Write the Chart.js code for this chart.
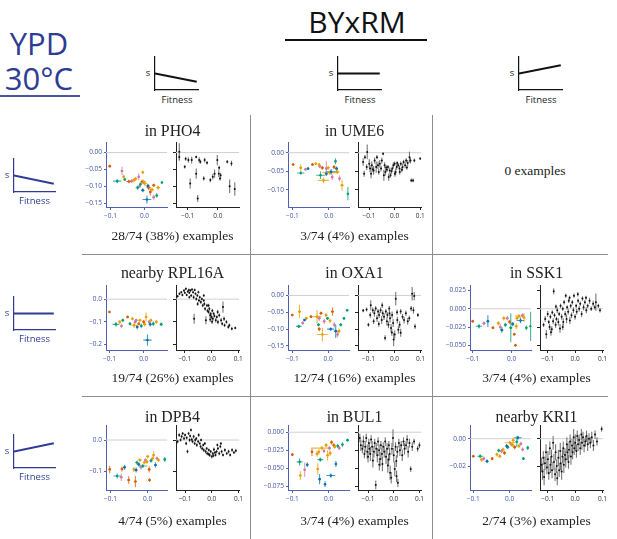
<!DOCTYPE html>
<html>
<head>
<meta charset="utf-8">
<script src="https://cdn.jsdelivr.net/npm/chart.js@4.4.0/dist/chart.umd.min.js"></script>
<style>
body{margin:0;background:#fff;width:617px;height:539px;position:relative;overflow:hidden;font-family:"Open Sans",sans-serif}
.t{position:absolute;white-space:nowrap;transform:translate(-50%,-50%);line-height:1}
.serif{font-family:"Liberation Serif",serif;color:#222}
canvas{position:absolute}
.ln{position:absolute;background:#8c8c8c}
</style>
</head>
<body>
<script>
// colours used for the strains in the left plots: blue, orange, green, red, pink
const palette = ['#0072b2', '#e69f00', '#009e73', '#d55e00', '#cc79a7'];

// schematic slopes (s against fitness)
const schemX = [0, 1];
const schemDown = [0.5, 0.25];
const schemFlat = [0.5, 0.5];
const schemUp = [0.5, 0.75];

const titles = ['in PHO4', 'in UME6', '', 'nearby RPL16A', 'in OXA1', 'in SSK1', 'in DPB4', 'in BUL1', 'nearby KRI1'];
const footers = ['28/74 (38%) examples', '3/74 (4%) examples', '0 examples', '19/74 (26%) examples', '12/74 (16%) examples',
  '3/74 (4%) examples', '4/74 (5%) examples', '3/74 (4%) examples', '2/74 (3%) examples'];

// left plots: [fitness, s, fitness err, s err, colour]
const pho4Left = [
  [-0.102,-0.040,0.003,0.004,3],[-0.066,-0.054,0.004,0.012,4],[-0.080,-0.084,0.012,0.006,2],[-0.061,-0.071,0.004,0.006,1],
  [-0.058,-0.079,0.003,0.004,2],[-0.046,-0.085,0.008,0.005,3],[-0.031,-0.081,0.006,0.006,1],[-0.026,-0.077,0.005,0.005,1],
  [-0.017,-0.071,0.004,0.010,4],[-0.005,-0.058,0.003,0.005,1],[-0.007,-0.086,0.005,0.006,3],[-0.020,-0.103,0.006,0.006,2],
  [-0.003,-0.086,0.008,0.007,1],[0.001,-0.091,0.006,0.008,1],[-0.005,-0.111,0.005,0.006,0],[-0.012,-0.093,0.004,0.005,2],
  [-0.014,-0.098,0.004,0.006,4],[0.012,-0.103,0.006,0.008,3],[0.022,-0.109,0.005,0.006,1],[0.017,-0.116,0.004,0.010,3],
  [0.036,-0.126,0.004,0.007,2],[0.007,-0.138,0.013,0.012,0],[0.027,-0.131,0.004,0.008,4],[0.051,-0.088,0.002,0.003,2],
  [0.027,-0.096,0.005,0.005,3],[0.040,-0.103,0.006,0.006,1],[-0.038,-0.084,0.005,0.005,4],[0.010,-0.098,0.005,0.006,0]
];
const ume6Left = [
  [-0.098,-0.032,0.003,0.003,3],[-0.077,-0.041,0.004,0.010,1],[-0.077,-0.055,0.010,0.004,2],[-0.064,-0.045,0.004,0.004,4],
  [-0.057,-0.043,0.003,0.003,0],[-0.045,-0.032,0.004,0.004,3],[-0.036,-0.030,0.004,0.004,1],[-0.027,-0.032,0.003,0.003,1],
  [-0.025,-0.037,0.004,0.005,4],[-0.018,-0.041,0.004,0.005,3],[-0.023,-0.061,0.012,0.010,2],[-0.015,-0.075,0.015,0.008,1],
  [-0.007,-0.043,0.004,0.020,4],[-0.002,-0.041,0.004,0.005,1],[-0.007,-0.057,0.004,0.006,0],[0.006,-0.052,0.015,0.008,0],
  [0.009,-0.066,0.004,0.008,4],[0.018,-0.023,0.003,0.008,2],[0.023,-0.052,0.006,0.006,1],[0.029,-0.070,0.004,0.008,4],
  [0.036,-0.088,0.004,0.015,1],[0.052,-0.111,0.003,0.018,2],[0.014,-0.039,0.004,0.005,3],[0.002,-0.054,0.020,0.006,1],
  [0.021,-0.043,0.004,0.006,0]
];
const rpl16aLeft = [
  [-0.100,-0.057,0.003,0.005,3],[-0.081,-0.112,0.010,0.010,2],[-0.070,-0.101,0.004,0.008,1],[-0.065,-0.119,0.004,0.010,4],
  [-0.061,-0.094,0.004,0.008,2],[-0.047,-0.079,0.004,0.006,3],[-0.033,-0.087,0.004,0.008,1],[-0.028,-0.116,0.010,0.012,1],
  [-0.025,-0.101,0.004,0.008,4],[-0.019,-0.124,0.004,0.010,0],[-0.014,-0.109,0.004,0.008,3],[-0.011,-0.094,0.004,0.008,1],
  [-0.007,-0.119,0.004,0.010,2],[0.000,-0.101,0.004,0.008,3],[0.003,-0.112,0.005,0.010,1],[0.007,-0.079,0.004,0.020,1],
  [0.011,-0.182,0.012,0.025,0],[0.016,-0.101,0.004,0.010,4],[0.021,-0.094,0.004,0.008,1],[0.028,-0.109,0.004,0.010,2],
  [0.037,-0.101,0.004,0.008,1],[0.051,-0.112,0.004,0.008,2],[-0.022,-0.094,0.004,0.008,4],[-0.040,-0.109,0.004,0.008,2],
  [0.019,-0.112,0.004,0.010,0]
];
const oxa1Left = [
  [-0.100,-0.058,0.003,0.004,3],[-0.080,-0.048,0.004,0.020,1],[-0.082,-0.092,0.008,0.005,2],[-0.071,-0.082,0.004,0.006,4],
  [-0.066,-0.073,0.004,0.004,0],[-0.061,-0.068,0.004,0.005,1],[-0.048,-0.063,0.004,0.004,3],[-0.031,-0.063,0.012,0.020,1],
  [-0.027,-0.087,0.004,0.005,2],[-0.025,-0.068,0.004,0.008,4],[-0.020,-0.053,0.004,0.005,3],[-0.016,-0.116,0.015,0.020,1],
  [-0.011,-0.077,0.004,0.008,4],[-0.006,-0.058,0.004,0.006,1],[-0.002,-0.068,0.004,0.005,2],[0.007,-0.100,0.010,0.005,0],
  [0.012,-0.048,0.004,0.012,3],[0.017,-0.087,0.004,0.008,4],[0.021,-0.106,0.005,0.020,0],[0.026,-0.116,0.004,0.008,4],
  [0.030,-0.106,0.004,0.008,1],[0.035,-0.087,0.004,0.005,2],[0.044,-0.068,0.003,0.004,2],[0.053,-0.044,0.003,0.004,2],
  [0.005,-0.075,0.004,0.006,1],[-0.025,-0.100,0.004,0.006,3]
];
const ssk1Left = [
  [-0.100,-0.017,0.003,0.002,3],[-0.084,-0.024,0.008,0.003,2],[-0.071,-0.020,0.004,0.003,4],[-0.061,-0.017,0.004,0.008,0],
  [-0.048,-0.026,0.004,0.002,3],[-0.034,-0.020,0.004,0.003,1],[-0.029,-0.025,0.004,0.004,4],[-0.025,-0.029,0.004,0.004,0],
  [-0.020,-0.013,0.004,0.003,1],[-0.016,-0.022,0.004,0.003,2],[-0.011,-0.013,0.004,0.003,4],[-0.005,-0.018,0.004,0.003,3],
  [-0.002,-0.026,0.004,0.020,2],[0.007,-0.035,0.003,0.002,3],[0.010,-0.050,0.003,0.002,3],[0.014,-0.013,0.004,0.003,1],
  [0.019,-0.010,0.010,0.003,1],[0.023,-0.016,0.010,0.004,0],[0.028,-0.009,0.004,0.003,4],[0.032,-0.012,0.004,0.006,1],
  [0.038,-0.026,0.003,0.003,2],[0.049,-0.024,0.003,0.020,2],[0.003,-0.021,0.004,0.003,0],[0.012,-0.024,0.004,0.004,1]
];
const dpb4Left = [
  [-0.102,-0.094,0.003,0.012,3],[-0.082,-0.115,0.010,0.008,2],[-0.071,-0.119,0.004,0.012,4],[-0.069,-0.093,0.004,0.008,3],
  [-0.062,-0.087,0.004,0.008,0],[-0.051,-0.128,0.004,0.012,3],[-0.037,-0.094,0.004,0.008,1],[-0.033,-0.133,0.004,0.018,3],
  [-0.031,-0.096,0.004,0.008,0],[-0.029,-0.072,0.004,0.006,2],[-0.021,-0.064,0.006,0.006,1],[-0.018,-0.087,0.004,0.008,4],
  [-0.013,-0.083,0.012,0.006,2],[-0.009,-0.072,0.004,0.006,1],[-0.006,-0.064,0.004,0.006,4],[0.000,-0.053,0.004,0.006,1],
  [0.004,-0.094,0.004,0.010,3],[0.005,-0.128,0.004,0.006,3],[0.009,-0.066,0.004,0.006,2],[0.013,-0.059,0.004,0.006,1],
  [0.016,-0.048,0.004,0.012,1],[0.021,-0.080,0.004,0.008,0],[0.025,-0.059,0.004,0.006,4],[0.029,-0.064,0.004,0.006,1],
  [0.046,-0.062,0.003,0.008,2],[-0.024,-0.078,0.004,0.006,0],[-0.002,-0.070,0.004,0.006,1]
];
const bul1Left = [
  [-0.100,-0.031,0.003,0.002,3],[-0.080,-0.041,0.008,0.005,2],[-0.078,-0.060,0.003,0.006,1],[-0.066,-0.052,0.003,0.010,4],
  [-0.059,-0.045,0.003,0.003,0],[-0.046,-0.027,0.003,0.006,3],[-0.032,-0.030,0.004,0.004,1],[-0.030,-0.051,0.003,0.008,1],
  [-0.027,-0.027,0.004,0.004,1],[-0.025,-0.065,0.003,0.007,0],[-0.023,-0.038,0.008,0.003,2],[-0.019,-0.022,0.025,0.003,1],
  [-0.010,-0.072,0.003,0.004,0],[-0.007,-0.018,0.004,0.003,1],[-0.003,-0.032,0.003,0.007,1],[0.002,-0.022,0.004,0.003,4],
  [0.006,-0.060,0.012,0.003,0],[0.008,-0.014,0.003,0.003,3],[0.014,-0.018,0.003,0.003,3],[0.017,-0.020,0.004,0.003,1],
  [0.020,-0.044,0.003,0.004,0],[0.025,-0.019,0.003,0.003,2],[0.029,-0.022,0.003,0.003,4],[0.038,-0.017,0.003,0.003,2],
  [0.052,-0.011,0.003,0.002,2],[-0.013,-0.026,0.003,0.003,4],[0.004,-0.029,0.004,0.004,1]
];
const kri1Left = [
  [-0.100,-0.0128,0.003,0.001,3],[-0.081,-0.0128,0.008,0.0015,2],[-0.077,-0.0153,0.004,0.0015,1],[-0.071,-0.0146,0.004,0.0015,4],
  [-0.062,-0.0165,0.004,0.0015,0],[-0.048,-0.0146,0.003,0.0012,3],[-0.035,-0.0116,0.004,0.0015,1],[-0.030,-0.0086,0.004,0.0015,2],
  [-0.027,-0.0128,0.004,0.0015,1],[-0.022,-0.0091,0.004,0.0015,4],[-0.018,-0.0079,0.004,0.0015,1],[-0.014,-0.0104,0.004,0.0015,3],
  [-0.008,-0.0054,0.004,0.0015,0],[-0.005,-0.0062,0.004,0.0015,2],[0.001,-0.0030,0.015,0.0015,1],[0.005,-0.0042,0.004,0.0015,4],
  [0.010,-0.0012,0.004,0.002,1],[0.014,-0.0062,0.004,0.0015,3],[0.020,-0.0022,0.004,0.004,2],[0.023,0.0007,0.010,0.0015,0],
  [0.026,-0.0054,0.004,0.0015,1],[0.031,-0.0037,0.004,0.0015,4],[0.036,-0.0079,0.004,0.0015,4],[0.038,-0.0146,0.003,0.001,2],
  [0.050,-0.0067,0.003,0.0015,2],[0.008,-0.0045,0.004,0.0015,1]
];

// right plots: [fitness, s, s err]
const pho4Right = [
  [-0.128,0.002,0.025],[-0.128,-0.013,0.010],[-0.107,-0.018,0.006],[-0.110,-0.042,0.005],[-0.098,-0.022,0.008],[-0.092,-0.091,0.015],
  [-0.087,-0.022,0.010],[-0.072,-0.013,0.004],[-0.072,-0.062,0.015],[-0.062,-0.022,0.008],[-0.058,-0.027,0.006],[-0.047,-0.076,0.006],
  [-0.044,-0.022,0.007],[-0.067,-0.135,0.010],[-0.025,-0.081,0.006],[-0.017,-0.071,0.008],[-0.011,-0.062,0.012],[-0.002,-0.022,0.015],
  [0.003,-0.062,0.010],[0.007,-0.076,0.006],[0.009,-0.067,0.008],[0.031,-0.027,0.005],[0.045,-0.032,0.008],[0.039,-0.099,0.020],
  [0.056,-0.107,0.020],[0.004,-0.045,0.006],[-0.036,-0.030,0.005]
];
const ume6Right = [
  [-0.123,-0.025,0.010],[-0.119,-0.057,0.008],[-0.109,-0.039,0.008],[-0.107,0.002,0.020],[-0.099,-0.030,0.012],[-0.096,-0.043,0.010],
  [-0.089,-0.034,0.010],[-0.082,-0.048,0.012],[-0.078,-0.021,0.008],[-0.072,-0.039,0.015],[-0.065,-0.034,0.010],[-0.062,-0.052,0.008],
  [-0.058,-0.030,0.010],[-0.053,-0.043,0.008],[-0.045,-0.003,0.004],[-0.042,-0.061,0.015],[-0.039,-0.034,0.008],[-0.036,-0.052,0.010],
  [-0.030,-0.046,0.006],[-0.026,-0.039,0.006],[-0.019,-0.048,0.008],[-0.016,-0.061,0.006],[-0.009,-0.043,0.006],[-0.005,-0.034,0.008],
  [0.000,-0.030,0.006],[0.004,-0.052,0.010],[0.008,-0.039,0.008],[0.014,-0.034,0.006],[0.019,-0.043,0.008],[0.024,-0.030,0.006],
  [0.031,-0.039,0.010],[0.035,-0.025,0.006],[0.041,-0.034,0.008],[0.045,-0.021,0.006],[0.051,-0.028,0.008],[0.058,-0.012,0.015],
  [0.062,-0.021,0.008],[0.065,-0.075,0.005],[0.072,-0.075,0.005],[0.077,-0.021,0.005],[0.100,-0.016,0.004],[-0.069,-0.012,0.006],
  [-0.050,-0.021,0.008],[-0.023,-0.066,0.010],[0.001,-0.057,0.008],[0.020,-0.052,0.008],[-0.116,-0.012,0.006],[-0.092,-0.057,0.012],
  [-0.085,-0.045,0.008],[-0.012,-0.050,0.007],[0.028,-0.046,0.007],[0.010,-0.028,0.005],[-0.033,-0.040,0.006],[0.048,-0.040,0.006]
];
const rpl16aRight = [
  [-0.127,0.013,0.006],[-0.120,0.024,0.006],[-0.113,0.031,0.005],[-0.109,0.019,0.006],[-0.103,0.038,0.006],[-0.100,0.028,0.005],
  [-0.096,0.046,0.006],[-0.093,0.019,0.006],[-0.089,0.034,0.005],[-0.085,0.041,0.006],[-0.083,0.028,0.005],[-0.079,0.038,0.006],
  [-0.076,0.016,0.006],[-0.073,0.043,0.005],[-0.069,0.031,0.006],[-0.067,0.009,0.008],[-0.065,-0.087,0.022],[-0.063,0.041,0.006],
  [-0.060,0.024,0.006],[-0.057,0.001,0.008],[-0.053,0.016,0.006],[-0.049,0.031,0.006],[-0.047,-0.006,0.008],[-0.044,0.009,0.006],
  [-0.040,-0.013,0.008],[-0.036,0.001,0.006],[-0.033,-0.028,0.008],[-0.029,-0.006,0.006],[-0.027,-0.021,0.008],[-0.024,-0.043,0.008],
  [-0.021,-0.094,0.018],[-0.017,-0.028,0.008],[-0.015,-0.051,0.008],[-0.011,-0.057,0.008],[-0.008,-0.043,0.008],[-0.005,-0.072,0.010],
  [-0.003,-0.065,0.008],[0.000,-0.079,0.010],[0.003,-0.051,0.008],[0.005,-0.087,0.010],[0.008,-0.065,0.008],[0.011,-0.075,0.008],
  [0.016,-0.094,0.010],[0.020,-0.079,0.008],[0.024,-0.101,0.010],[0.029,-0.072,0.008],[0.036,-0.094,0.010],[0.040,-0.109,0.008],
  [0.043,-0.035,0.025],[0.047,-0.087,0.010],[0.049,-0.116,0.008],[0.056,-0.101,0.008],[0.063,-0.124,0.008],[0.067,-0.116,0.008],
  [0.076,-0.131,0.008],[0.089,-0.128,0.006],[-0.011,-0.028,0.008],[0.023,-0.057,0.010],[-0.029,0.016,0.006],[-0.083,0.009,0.006],
  [-0.052,-0.021,0.008],[-0.005,-0.090,0.012],[0.002,-0.100,0.010]
];
const oxa1Right = [
  [-0.120,-0.045,0.005],[-0.107,-0.042,0.006],[-0.100,-0.087,0.006],[-0.093,-0.058,0.008],[-0.091,-0.029,0.015],[-0.083,-0.044,0.008],
  [-0.080,-0.077,0.008],[-0.077,-0.053,0.010],[-0.072,-0.039,0.008],[-0.067,-0.068,0.010],[-0.063,-0.048,0.008],[-0.059,-0.058,0.010],
  [-0.053,-0.044,0.008],[-0.049,-0.073,0.012],[-0.045,-0.053,0.008],[-0.040,-0.063,0.010],[-0.036,-0.126,0.008],[-0.033,-0.048,0.008],
  [-0.029,-0.077,0.012],[-0.027,-0.058,0.008],[-0.023,-0.087,0.010],[-0.019,-0.053,0.008],[-0.017,-0.068,0.012],[-0.013,-0.097,0.012],
  [-0.009,-0.058,0.010],[-0.005,-0.082,0.012],[-0.003,-0.131,0.020],[0.001,-0.116,0.012],[0.005,-0.010,0.020],[0.011,-0.073,0.010],
  [0.015,-0.102,0.012],[0.020,-0.087,0.010],[0.024,-0.111,0.012],[0.031,-0.063,0.008],[0.037,-0.073,0.010],[0.044,-0.053,0.008],
  [0.051,-0.077,0.010],[0.057,-0.068,0.008],[0.064,-0.039,0.008],[0.068,0.005,0.020],[0.073,-0.044,0.010],[0.076,-0.002,0.012],
  [0.079,-0.092,0.008],[0.090,-0.058,0.006],[-0.047,-0.029,0.008],[-0.020,-0.039,0.008],[0.024,-0.048,0.008],[-0.060,-0.085,0.008],
  [-0.010,-0.110,0.010],[0.010,-0.050,0.008]
];
const ssk1Right = [
  [-0.115,-0.022,0.003],[-0.109,-0.014,0.004],[-0.105,-0.035,0.006],[-0.100,-0.007,0.004],[-0.096,-0.018,0.003],[-0.093,-0.025,0.004],
  [-0.090,-0.011,0.003],[-0.088,-0.032,0.005],[-0.083,-0.005,0.003],[-0.080,-0.017,0.004],[-0.078,0.024,0.004],[-0.075,-0.009,0.003],
  [-0.071,-0.022,0.004],[-0.068,-0.014,0.003],[-0.065,-0.002,0.004],[-0.061,-0.018,0.005],[-0.058,-0.007,0.003],[-0.055,-0.027,0.006],
  [-0.053,0.004,0.003],[-0.049,-0.011,0.004],[-0.045,0.000,0.003],[-0.043,-0.018,0.005],[-0.040,0.009,0.003],[-0.036,-0.007,0.004],
  [-0.034,0.018,0.003],[-0.031,-0.014,0.006],[-0.029,0.002,0.003],[-0.025,-0.004,0.004],[-0.023,0.011,0.003],[-0.019,-0.016,0.005],
  [-0.016,0.004,0.003],[-0.013,-0.009,0.004],[-0.010,0.009,0.003],[-0.006,-0.002,0.004],[-0.004,0.018,0.003],[0.000,-0.011,0.004],
  [0.004,0.004,0.003],[0.006,-0.004,0.004],[0.011,0.011,0.003],[0.015,0.000,0.004],[0.019,0.007,0.003],[0.024,-0.007,0.004],
  [0.027,0.014,0.003],[0.031,0.002,0.004],[0.036,0.009,0.003],[0.041,-0.002,0.004],[0.046,0.004,0.003],[0.053,0.011,0.004],
  [0.059,0.000,0.003],[0.066,0.007,0.004],[0.072,0.002,0.003],[0.076,0.009,0.012],[0.085,0.004,0.003],[0.091,-0.002,0.003],
  [-0.070,0.003,0.003],[-0.020,0.015,0.003],[0.010,0.020,0.003],[-0.085,-0.028,0.004],[-0.045,-0.025,0.004],[0.040,0.015,0.003]
];
const dpb4Right = [
  [-0.128,-0.005,0.006],[-0.122,0.016,0.006],[-0.117,0.000,0.005],[-0.113,0.011,0.006],[-0.109,0.021,0.005],[-0.104,0.005,0.006],
  [-0.100,0.016,0.005],[-0.096,-0.011,0.006],[-0.094,0.007,0.005],[-0.091,-0.037,0.006],[-0.087,0.021,0.005],[-0.083,0.000,0.006],
  [-0.081,0.013,0.005],[-0.078,0.032,0.005],[-0.075,0.002,0.006],[-0.072,-0.005,0.005],[-0.068,0.011,0.006],[-0.064,-0.011,0.005],
  [-0.062,0.000,0.006],[-0.058,0.005,0.005],[-0.056,-0.016,0.006],[-0.051,-0.005,0.005],[-0.049,0.016,0.006],[-0.045,-0.011,0.005],
  [-0.042,-0.021,0.006],[-0.040,0.000,0.005],[-0.036,-0.027,0.006],[-0.032,-0.016,0.005],[-0.030,-0.032,0.006],[-0.026,-0.011,0.005],
  [-0.023,-0.037,0.006],[-0.019,-0.027,0.005],[-0.017,-0.043,0.006],[-0.011,-0.032,0.005],[-0.008,-0.048,0.006],[-0.004,-0.037,0.005],
  [0.000,-0.053,0.006],[0.004,-0.043,0.005],[0.008,-0.030,0.006],[0.014,-0.048,0.005],[0.018,-0.037,0.006],[0.023,-0.027,0.005],
  [0.028,-0.043,0.006],[0.032,-0.021,0.005],[0.037,-0.037,0.006],[0.042,-0.048,0.005],[0.049,-0.032,0.006],[0.056,-0.043,0.005],
  [0.063,-0.037,0.006],[0.069,-0.048,0.005],[0.076,-0.032,0.006],[0.083,-0.040,0.005],[0.090,-0.034,0.006],[0.034,-0.011,0.005],
  [0.021,-0.016,0.005],[-0.012,-0.045,0.005],[0.006,-0.050,0.005],[0.012,-0.040,0.005]
];
const bul1Right = [
  [-0.132,-0.008,0.006],[-0.128,-0.018,0.008],[-0.122,-0.023,0.006],[-0.118,-0.013,0.008],[-0.114,-0.030,0.006],[-0.111,-0.020,0.008],
  [-0.107,-0.008,0.006],[-0.103,-0.027,0.010],[-0.100,-0.034,0.008],[-0.097,-0.015,0.006],[-0.095,-0.023,0.008],[-0.091,-0.030,0.010],
  [-0.088,-0.010,0.006],[-0.084,-0.020,0.008],[-0.081,-0.039,0.010],[-0.077,-0.027,0.008],[-0.074,-0.015,0.006],[-0.070,-0.073,0.006],
  [-0.068,-0.023,0.008],[-0.064,-0.032,0.010],[-0.061,-0.013,0.006],[-0.057,-0.025,0.008],[-0.053,-0.037,0.010],[-0.050,-0.018,0.006],
  [-0.046,-0.030,0.008],[-0.044,-0.044,0.010],[-0.041,-0.020,0.006],[-0.037,-0.027,0.008],[-0.033,-0.013,0.006],[-0.030,-0.034,0.010],
  [-0.026,-0.023,0.008],[-0.023,-0.046,0.010],[-0.019,-0.018,0.006],[-0.016,-0.030,0.008],[-0.014,-0.056,0.010],[-0.010,-0.063,0.008],
  [-0.007,-0.023,0.008],[-0.003,-0.008,0.012],[0.000,-0.032,0.010],[0.004,-0.051,0.010],[0.007,-0.020,0.006],[0.011,-0.061,0.008],
  [0.014,-0.027,0.008],[0.016,-0.070,0.006],[0.020,-0.015,0.006],[0.024,-0.025,0.008],[0.029,-0.018,0.006],[0.033,-0.032,0.008],
  [0.038,-0.013,0.006],[0.042,-0.023,0.008],[0.048,-0.018,0.006],[0.052,-0.010,0.006],[0.056,-0.027,0.008],[0.061,-0.015,0.006],
  [0.066,-0.051,0.004],[0.072,-0.020,0.006],[0.079,-0.013,0.004],[0.093,-0.023,0.004],[0.100,-0.018,0.004],[-0.056,-0.045,0.008],
  [-0.020,-0.038,0.008],[0.010,-0.040,0.008]
];
const kri1Right = [
  [-0.123,-0.019,0.005],[-0.119,-0.024,0.006],[-0.116,-0.014,0.005],[-0.113,-0.028,0.006],[-0.110,-0.018,0.005],[-0.106,-0.010,0.006],
  [-0.103,-0.021,0.005],[-0.099,-0.015,0.006],[-0.096,-0.025,0.005],[-0.092,-0.007,0.005],[-0.090,-0.019,0.006],[-0.086,-0.013,0.005],
  [-0.084,-0.023,0.006],[-0.080,-0.003,0.005],[-0.077,-0.017,0.006],[-0.073,-0.026,0.005],[-0.071,-0.010,0.006],[-0.067,-0.020,0.005],
  [-0.065,-0.029,0.005],[-0.061,-0.014,0.006],[-0.058,-0.023,0.005],[-0.054,-0.009,0.006],[-0.053,-0.018,0.005],[-0.049,-0.024,0.006],
  [-0.046,-0.013,0.005],[-0.043,-0.007,0.005],[-0.041,-0.019,0.006],[-0.037,-0.012,0.005],[-0.034,-0.015,0.006],[-0.030,-0.004,0.005],
  [-0.028,-0.010,0.006],[-0.024,-0.017,0.005],[-0.022,-0.008,0.006],[-0.018,-0.002,0.005],[-0.015,-0.013,0.006],[-0.011,-0.005,0.005],
  [-0.009,-0.010,0.005],[-0.005,0.001,0.006],[-0.003,-0.007,0.005],[0.001,-0.003,0.006],[0.005,-0.009,0.005],[0.008,0.002,0.004],
  [0.011,-0.004,0.005],[0.015,-0.001,0.004],[0.019,-0.007,0.005],[0.023,0.003,0.004],[0.025,-0.003,0.005],[0.029,0.001,0.004],
  [0.033,-0.005,0.005],[0.038,-0.002,0.004],[0.042,0.002,0.004],[0.046,-0.004,0.005],[0.051,0.000,0.004],[0.056,-0.003,0.004],
  [0.061,0.001,0.004],[0.067,-0.005,0.004],[0.073,0.003,0.003],[0.080,-0.002,0.003],[0.097,0.007,0.002]
];

// layout
const cellX = [68, 250, 432];
const rowTop = [142, 284.5, 425];
const titleY = [130.7, 273.3, 417.3];
const footY = [236, 378.3, 520.7];
const PH = 65, LW = 61, RW = 63, PAD_T = 6, PAD_R = 10, XH = 18;

function addText(txt, x, y, size, cls, color) {
  const d = document.createElement('div');
  d.className = 't ' + (cls || '');
  d.textContent = txt;
  d.style.left = x + 'px';
  d.style.top = y + 'px';
  d.style.fontSize = size + 'px';
  if (color) d.style.color = color;
  document.body.appendChild(d);
}
function addLine(x, y, w, h, color) {
  const d = document.createElement('div');
  d.className = 'ln';
  d.style.left = x + 'px'; d.style.top = y + 'px';
  d.style.width = w + 'px'; d.style.height = h + 'px';
  if (color) d.style.background = color;
  document.body.appendChild(d);
}
function makeCanvas(left, top, w, h) {
  const c = document.createElement('canvas');
  c.width = w; c.height = h;
  c.style.left = left + 'px'; c.style.top = top + 'px';
  document.body.appendChild(c);
  return c;
}
function fmt(v, d) {
  return (v < -1e-9 ? '\u2212' : '') + Math.abs(v).toFixed(d);
}

// zero line + error bars, drawn with the chart's scales
const errorBars = {
  id: 'errorBars',
  beforeDatasetsDraw(chart) {
    const { ctx, chartArea: a, scales: { x, y } } = chart;
    ctx.save();
    ctx.beginPath(); ctx.rect(a.left, a.top - 2, a.right - a.left + 2, a.bottom - a.top + 2); ctx.clip();
    const y0 = y.getPixelForValue(0);
    ctx.strokeStyle = '#d0d0d0'; ctx.lineWidth = 1;
    ctx.beginPath(); ctx.moveTo(a.left, y0); ctx.lineTo(a.right, y0); ctx.stroke();
    chart.data.datasets.forEach(ds => {
      ctx.strokeStyle = ds.barColor; ctx.lineWidth = ds.barWidth;
      ds.data.forEach(p => {
        const px = x.getPixelForValue(p.x), py = y.getPixelForValue(p.y);
        ctx.beginPath();
        if (p.ey) { ctx.moveTo(px, y.getPixelForValue(p.y - p.ey)); ctx.lineTo(px, y.getPixelForValue(p.y + p.ey)); }
        if (p.ex) { ctx.moveTo(x.getPixelForValue(p.x - p.ex), py); ctx.lineTo(x.getPixelForValue(p.x + p.ex), py); }
        ctx.stroke();
      });
    });
    ctx.restore();
  }
};

function scatterPlot(o) {
  const yw = o.colored ? 36 : 8;
  const c = makeCanvas(o.left - yw, o.top - PAD_T, yw + o.w + PAD_R, PAD_T + PH + XH);
  const axisCol = o.colored ? '#5060b4' : '#222';
  const labCol = o.colored ? '#4254a8' : '#333';
  let datasets;
  if (o.colored) {
    datasets = palette.map((col, k) => ({
      data: o.pts.filter(p => p[4] === k).map(p => ({ x: p[0], y: p[1], ex: p[2], ey: p[3] })),
      backgroundColor: col, borderWidth: 0, pointRadius: 1.3, barColor: col + 'bb', barWidth: 1.1
    }));
  } else {
    datasets = [{
      data: o.pts.map(p => ({ x: p[0], y: p[1], ey: p[2] })),
      backgroundColor: '#111', borderWidth: 0, pointRadius: 1.0, barColor: '#777', barWidth: 1.1
    }];
  }
  const tickFont = { family: 'Open Sans', size: 6.5 };
  new Chart(c, {
    type: 'scatter',
    data: { datasets },
    plugins: [errorBars],
    options: {
      responsive: false, animation: false, events: [],
      layout: { padding: { top: PAD_T, right: PAD_R, left: 0, bottom: 0 } },
      plugins: { legend: { display: false }, tooltip: { enabled: false } },
      scales: {
        x: {
          type: 'linear', min: o.xr[0], max: o.xr[1],
          afterBuildTicks: s => { s.ticks = o.xt.map(v => ({ value: v })); },
          afterFit: s => { s.height = XH; s.paddingLeft = 0; s.paddingRight = 0; },
          ticks: { font: tickFont, color: labCol, padding: 2, maxRotation: 0, autoSkip: false, callback: v => fmt(v, 1) },
          grid: { display: true, drawOnChartArea: false, drawTicks: true, tickLength: 3, color: axisCol },
          border: { display: true, color: axisCol, width: 1 }
        },
        y: {
          type: 'linear', min: o.yr[0], max: o.yr[1],
          afterBuildTicks: s => { s.ticks = o.yt.map(v => ({ value: v })); },
          afterFit: s => { s.width = yw; s.paddingTop = 0; s.paddingBottom = 0; },
          ticks: { font: tickFont, color: labCol, padding: 2, autoSkip: false, callback: v => o.colored ? fmt(v, o.yd) : '' },
          grid: { display: true, drawOnChartArea: false, drawTicks: true, tickLength: o.colored ? 2 : 3, color: axisCol },
          border: { display: true, color: axisCol, width: 1 }
        }
      }
    }
  });
}

function panel(i, left, right, yr, yt, yd, xrL, xrR, xtR) {
  const col = i % 3, row = Math.floor(i / 3);
  const x0 = cellX[col], top = rowTop[row];
  scatterPlot({ colored: true, left: x0 + 38, top, w: LW, pts: left, xr: xrL, yr, xt: [-0.1, 0], yt, yd });
  scatterPlot({ colored: false, left: x0 + 108, top, w: RW, pts: right, xr: xrR, yr, xt: xtR, yt, yd });
}

function schematic(ax, yTop, yBot, xEnd, vals, col) {
  const c = makeCanvas(ax - 3, yTop - 3, xEnd - ax + 6, yBot - yTop + 6);
  new Chart(c, {
    type: 'scatter',
    data: { datasets: [{ data: schemX.map((v, i) => ({ x: v, y: vals[i] })), showLine: true, borderColor: col, borderWidth: 1.8, pointRadius: 0 }] },
    options: {
      responsive: false, animation: false, events: [],
      layout: { padding: { top: 3, right: 3, left: 0, bottom: 0 } },
      plugins: { legend: { display: false }, tooltip: { enabled: false } },
      scales: {
        x: { min: 0, max: 1.03, ticks: { display: false }, grid: { display: false }, border: { color: col, width: 1.2 },
             afterFit: s => { s.height = 3; s.paddingLeft = 0; s.paddingRight = 0; } },
        y: { min: 0, max: 1, ticks: { display: false }, grid: { display: false }, border: { color: col, width: 1.2 },
             afterFit: s => { s.width = 3; s.paddingTop = 0; s.paddingBottom = 0; } }
      }
    }
  });
}

// header
const blue = '#2e3c94';
addText('YPD', 39, 43, 31, '', blue);
addText('30\u00b0C', 39, 77.5, 31, '', blue);
addLine(0, 95, 80, 1.5, '#4a57a0');
addText('BYxRM', 357, 22, 30, '', '#111');
addLine(285, 39, 142, 1.5, '#111');

// column schematics
[[155, schemDown], [338, schemFlat], [519, schemUp]].forEach(([ax, v]) => {
  schematic(ax, 57.3, 90.7, ax + 43, v, '#111');
  addText('s', ax - 7, 73, 9.5, '', '#222');
  addText('Fitness', ax + 22, 99.5, 9.5, '', '#222');
});
// row schematics
[[159.3, schemDown], [296.7, schemFlat], [435, schemUp]].forEach(([t, v]) => {
  schematic(14, t, t + 33.4, 55, v, blue);
  addText('s', 7, t + 16, 9.5, '', blue);
  addText('Fitness', 34.5, t + 42, 9.5, '', blue);
});

// grid lines
addLine(250, 115, 1, 424);
addLine(432, 115, 1, 424);
addLine(82, 254, 526, 1);
addLine(82, 396, 526, 1);

// panels
panel(0, pho4Left, pho4Right, [-0.160, 0.031], [0, -0.05, -0.1, -0.15], 2, [-0.113, 0.066], [-0.139, 0.070], [-0.1, 0]);
panel(1, ume6Left, ume6Right, [-0.147, 0.029], [0, -0.05, -0.1], 2, [-0.112, 0.055], [-0.143, 0.103], [-0.1, 0, 0.1]);
panel(3, rpl16aLeft, rpl16aRight, [-0.226, 0.063], [0, -0.1, -0.2], 1, [-0.110, 0.068], [-0.133, 0.103], [-0.1, 0, 0.1]);
panel(4, oxa1Left, oxa1Right, [-0.162, 0.031], [0, -0.05, -0.1, -0.15], 2, [-0.112, 0.058], [-0.140, 0.102], [-0.1, 0, 0.1]);
panel(5, ssk1Left, ssk1Right, [-0.0565, 0.0326], [0.025, 0, -0.025, -0.05], 3, [-0.107, 0.050], [-0.128, 0.102], [-0.1, 0, 0.1]);
panel(6, dpb4Left, dpb4Right, [-0.160, 0.048], [0, -0.1], 1, [-0.112, 0.052], [-0.134, 0.102], [-0.1, 0, 0.1]);
panel(7, bul1Left, bul1Right, [-0.080, 0.010], [0, -0.025, -0.05, -0.075], 3, [-0.112, 0.056], [-0.139, 0.106], [-0.1, 0, 0.1]);
panel(8, kri1Left, kri1Right, [-0.0375, 0.010], [0, -0.02], 2, [-0.109, 0.059], [-0.128, 0.102], [-0.1, 0, 0.1]);

// titles and footers
titles.forEach((t, i) => {
  const col = i % 3, row = Math.floor(i / 3);
  const cx = cellX[col] + 104.5;
  if (t) addText(t, cx, titleY[row], 15.8, 'serif');
  if (i === 2) addText(footers[i], 535, 171, 13.5, 'serif');
  else addText(footers[i], cx, footY[row], 13.5, 'serif');
});
</script>
</body>
</html>
